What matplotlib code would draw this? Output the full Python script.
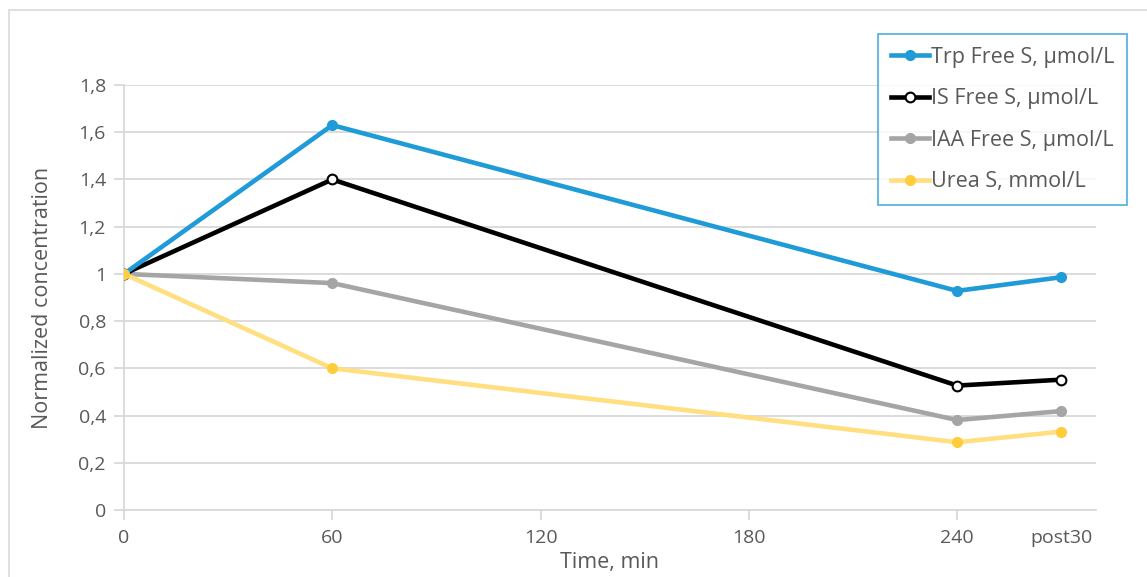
import numpy as np
import matplotlib
matplotlib.use("Agg")
import matplotlib.pyplot as plt
from matplotlib.patches import Rectangle
from matplotlib.ticker import FuncFormatter

plt.rcParams['font.family'] = ['Open Sans', 'DejaVu Sans']

# time points (post30 placed at 270 on the time axis)
time_min = [0, 60, 240, 270]
tick_pos = [0, 60, 120, 180, 240, 270]
tick_lab = ["0", "60", "120", "180", "240", "post30"]

trp_free = [1.0, 1.63, 0.928, 0.986]
is_free = [1.0, 1.40, 0.527, 0.552]
iaa_free = [1.0, 0.961, 0.381, 0.419]
urea = [1.0, 0.600, 0.287, 0.332]

fig = plt.figure(figsize=(11.47, 5.77), dpi=100)
W, H = 1147, 577
ax = fig.add_axes([124 / W, 1 - 510 / H, (1096 - 124) / W, (510 - 85) / H])

# chart area frame
fig.patches.append(Rectangle((9 / W, -0.05), 1.2, 1 - 10 / H + 0.05,
                             transform=fig.transFigure, fill=False,
                             edgecolor='#D9D9D9', linewidth=1.2, zorder=0))

lw = 3.3
ax.plot(time_min, trp_free, color='#1F9BD7', lw=lw, marker='o', ms=7,
        label='Trp Free S, µmol/L', zorder=5)
ax.plot(time_min, is_free, color='black', lw=lw, marker='o', ms=7,
        mfc='white', mec='black', mew=1.5, label='IS Free S, µmol/L', zorder=4)
ax.plot(time_min, iaa_free, color='#A5A5A5', lw=lw, marker='o', ms=7,
        label='IAA Free S, µmol/L', zorder=3)
ax.plot(time_min, urea, color='#FFDF80', lw=lw, marker='o', ms=7,
        mfc='#FFCC3A', mec='#FFCC3A', label='Urea S, mmol/L', zorder=6)

ax.set_xlim(0, 280)
ax.set_ylim(0, 1.8)
ax.set_yticks(np.arange(0, 1.81, 0.2))
ax.yaxis.set_major_formatter(FuncFormatter(
    lambda v, p: "0" if abs(v) < 1e-9 else ("1" if abs(v - 1) < 1e-9 else f"{v:.1f}".replace('.', ','))))
ax.set_xticks(tick_pos)
ax.set_xticklabels(tick_lab)
ax.xaxis.get_major_ticks()[-1].tick1line.set_visible(False)

ax.grid(axis='y', color='#D9D9D9', lw=1.3)
ax.set_axisbelow(True)
for s in ['top', 'right']:
    ax.spines[s].set_visible(False)
ax.spines['left'].set_color('#D9D9D9')
ax.spines['bottom'].set_color('#D9D9D9')
ax.spines['left'].set_linewidth(1.3)
ax.spines['bottom'].set_linewidth(1.3)
ax.tick_params(axis='y', length=7, color='#D9D9D9', width=1.3, labelsize=14,
               labelcolor='#595959', pad=6)
ax.tick_params(axis='x', length=7, color='#D9D9D9', width=1.3, labelsize=14,
               labelcolor='#595959', pad=7)

ax.set_xlabel("Time, min", fontsize=15.5, color='#595959', labelpad=3)
ax.set_ylabel("Normalized concentration", fontsize=15.5, color='#595959', labelpad=18)

leg = ax.legend(loc='upper left', bbox_to_anchor=(878 / W, 1 - 34 / H),
                bbox_transform=fig.transFigure, fontsize=15.5, frameon=True,
                fancybox=False, handlelength=1.75, handletextpad=0.1,
                borderpad=0.6, labelspacing=0.95, borderaxespad=0)
leg.get_frame().set_edgecolor('#1F9BD7')
leg.get_frame().set_linewidth(1.2)
for t in leg.get_texts():
    t.set_color('#595959')

fig.savefig("out.png", dpi=100)
